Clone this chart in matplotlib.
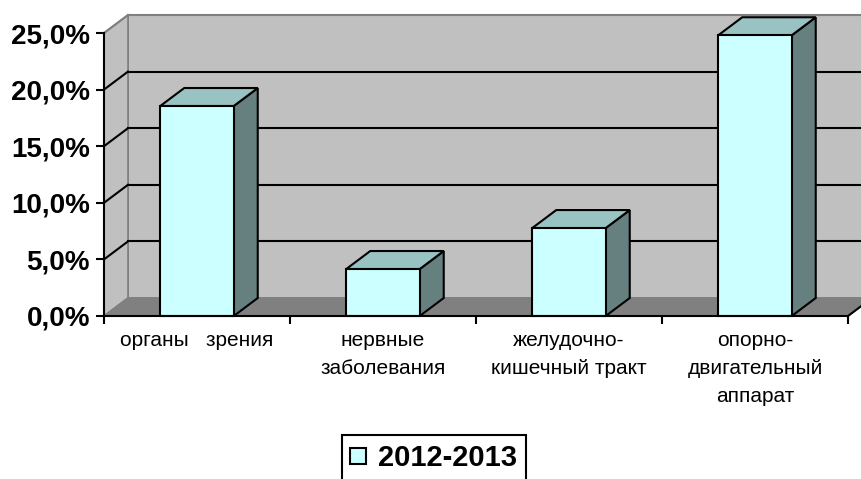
import numpy as np
import matplotlib.pyplot as plt
from matplotlib.patches import Polygon, Rectangle
from matplotlib.lines import Line2D

# данные
categories = ['органы   зрения', 'нервные\nзаболевания', 'желудочно-\nкишечный тракт',
              'опорно-\nдвигательный\nаппарат']
values = [0.1855, 0.0415, 0.0777, 0.248]
series_name = '2012-2013'
yticks = [0.0, 0.05, 0.10, 0.15, 0.20, 0.25]

front_c = '#CCFFFF'
top_c = '#99C2C2'
side_c = '#668080'
wall_c = '#C0C0C0'
floor_c = '#808080'

fig = plt.figure(figsize=(8.61, 4.79), dpi=100)
ax = fig.add_axes([104 / 861, 1 - 316 / 479, 744 / 861, 283 / 479])
ax.set_xlim(0, len(categories))
ax.set_ylim(0, 0.25)
ax.patch.set_visible(False)

# глубина «3D»
dx = 24 / 186
dy = 18 / 283 * 0.25
n = len(categories)
ymax = 0.25

# стены и пол
ax.add_patch(Polygon([(dx, dy), (n + dx, dy), (n + dx, ymax + dy), (dx, ymax + dy)],
                     fc=wall_c, ec=floor_c, lw=1.2, clip_on=False, zorder=1))
ax.add_patch(Polygon([(0, 0), (dx, dy), (dx, ymax + dy), (0, ymax)],
                     fc=wall_c, ec=floor_c, lw=1.2, clip_on=False, zorder=1))
ax.add_patch(Polygon([(0, 0), (n, 0), (n + dx, dy), (dx, dy)],
                     fc=floor_c, ec=floor_c, lw=1.2, clip_on=False, zorder=1))
ax.plot([n, n + dx], [0, dy], color='black', lw=1.5, clip_on=False, zorder=2)

# линии сетки
for v in yticks[1:]:
    c = 'black' if v < ymax else floor_c
    ax.plot([dx, n + dx], [v + dy, v + dy], color=c, lw=1.5, clip_on=False, zorder=2)
    ax.plot([0, dx], [v, v + dy], color=c, lw=1.5, clip_on=False, zorder=2)

# столбцы
w = 0.395
for i, h in enumerate(values):
    x0 = i + 0.5 - w / 2
    x1 = x0 + w
    ax.add_patch(Polygon([(x1, 0), (x1 + dx, dy), (x1 + dx, h + dy), (x1, h)],
                         fc=side_c, ec='black', lw=1.5, clip_on=False, zorder=3))
    ax.add_patch(Polygon([(x0, h), (x1, h), (x1 + dx, h + dy), (x0 + dx, h + dy)],
                         fc=top_c, ec='black', lw=1.5, clip_on=False, zorder=3))
    ax.add_patch(Rectangle((x0, 0), w, h, fc=front_c, ec='black', lw=1.5,
                           clip_on=False, zorder=4))

# оси
for s in ['top', 'right']:
    ax.spines[s].set_visible(False)
for s in ['left', 'bottom']:
    ax.spines[s].set_linewidth(1.5)
    ax.spines[s].set_zorder(5)

ax.set_yticks(yticks)
ax.set_yticklabels([f'{v * 100:.1f}%'.replace('.', ',') for v in yticks],
                   fontfamily='Liberation Sans', fontweight='bold', fontsize=20)
ax.tick_params(axis='y', direction='out', length=6, width=1.5, pad=4)

ax.set_xticks(np.arange(n) + 0.5)
ax.set_xticklabels(categories, fontfamily='Liberation Sans', fontsize=15, linespacing=1.6)
ax.set_xticks(np.arange(n + 1), minor=True)
ax.tick_params(axis='x', which='major', length=0, pad=11)
ax.tick_params(axis='x', which='minor', direction='out', length=6, width=1.5)

# легенда
handle = Line2D([], [], ls='none', marker='s', markersize=11, mfc=front_c,
                mec='black', mew=1.5, label=series_name)
leg = fig.legend(handles=[handle],
                 loc='upper left', bbox_to_anchor=(342 / 861, 1 - 435 / 479),
                 frameon=True, fancybox=False, edgecolor='black', framealpha=1,
                 prop={'family': 'Liberation Sans', 'weight': 'bold', 'size': 21},
                 handlelength=0.5, handletextpad=0.45,
                 borderpad=0.3, borderaxespad=0)
leg.get_frame().set_linewidth(1.5)

fig.savefig('out.png', dpi=100)
